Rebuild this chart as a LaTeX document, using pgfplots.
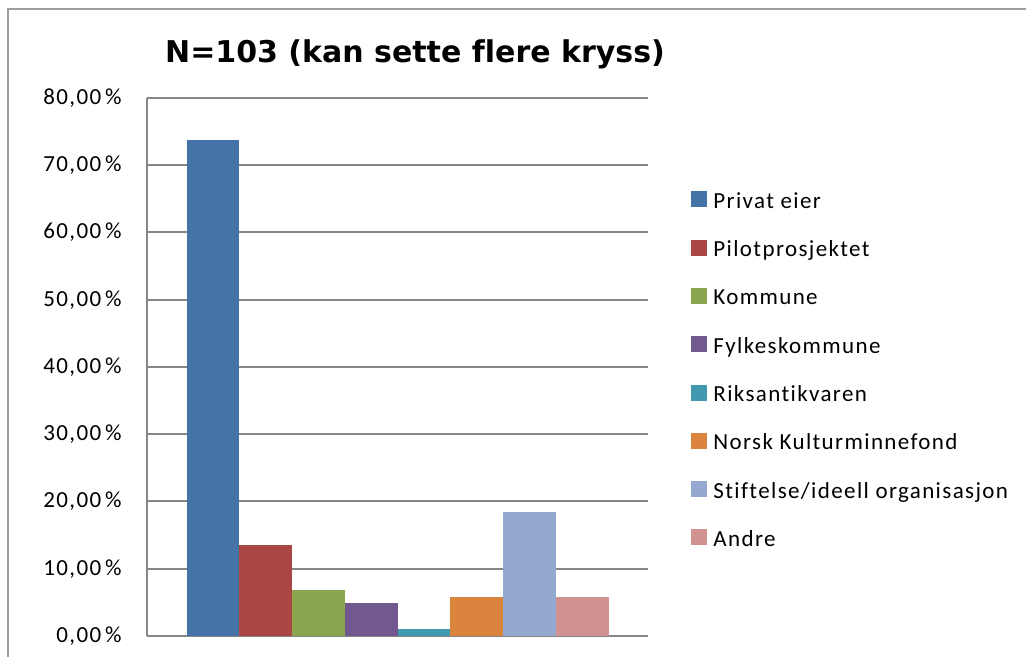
\documentclass[border=0pt]{standalone}
\usepackage{fontspec}
\setmainfont{Carlito}[Ligatures=NoCommon]
\newfontfamily\verd{DejaVu Sans}[Ligatures=NoCommon]
\newfontfamily\calsp{Carlito}[LetterSpace=6,Ligatures=NoCommon]
\newfontfamily\calleg{Carlito}[LetterSpace=6,Ligatures=NoCommon]
\usepackage{pgfplots}
\pgfplotsset{compat=1.18}
\definecolor{c1}{HTML}{4572A7}
\definecolor{c2}{HTML}{AA4643}
\definecolor{c3}{HTML}{89A54E}
\definecolor{c4}{HTML}{71588F}
\definecolor{c5}{HTML}{4198AF}
\definecolor{c6}{HTML}{DB843D}
\definecolor{c7}{HTML}{93A9CF}
\definecolor{c8}{HTML}{D19392}
\definecolor{gridc}{HTML}{868686}
\begin{document}
\begin{tikzpicture}
\useasboundingbox (0,0) rectangle (513pt,328.5pt);
\draw[gridc!80, line width=1pt] (4pt,0) -- (4pt,324pt) -- (513pt,324pt);
\node[font={\verd\bfseries\fontsize{15pt}{18pt}\selectfont}, anchor=base] at (207.5pt,297pt) {N=103 (kan sette flere kryss)};
\begin{axis}[
  at={(73.5pt,10.5pt)}, anchor=south west,
  scale only axis, width=250.5pt, height=269pt,
  xmin=-0.5, xmax=0.5, ymin=0, ymax=80,
  ybar=0pt, bar width=26.375pt,
  xtick=\empty,
  ytick={0,10,...,80},
  yticklabels={{0,00\,\%},{10,00\,\%},{20,00\,\%},{30,00\,\%},{40,00\,\%},{50,00\,\%},{60,00\,\%},{70,00\,\%},{80,00\,\%}},
  yticklabel style={font=\calsp\fontsize{11.5pt}{13pt}\selectfont, inner sep=0pt, xshift=-12.5pt},
  major tick length=0pt,
  axis lines*=left,
  axis line style={gridc, line width=1pt},
  ymajorgrids, major grid style={gridc, line width=1pt},
  clip=false,
  legend image code/.code={\fill[#1] (0pt,-2.5pt) rectangle (8pt,5.5pt);},
  legend style={draw=none, fill=none, at={(1.0858,0.8272)}, anchor=north west,
    inner sep=0pt, row sep=13.65pt, font=\calleg\fontsize{11.5pt}{13pt}\selectfont,
    nodes={inner sep=0pt, text height=8pt, text depth=2pt},
    /tikz/every odd column/.append style={column sep=3pt}},
  legend cell align=left,
]
\addplot[fill=c1, draw=none] coordinates {(0,73.79)};
\addplot[fill=c2, draw=none] coordinates {(0,13.59)};
\addplot[fill=c3, draw=none] coordinates {(0,6.80)};
\addplot[fill=c4, draw=none] coordinates {(0,4.85)};
\addplot[fill=c5, draw=none] coordinates {(0,0.97)};
\addplot[fill=c6, draw=none] coordinates {(0,5.83)};
\addplot[fill=c7, draw=none] coordinates {(0,18.45)};
\addplot[fill=c8, draw=none] coordinates {(0,5.83)};
\legend{Privat eier, Pilotprosjektet, Kommune, Fylkeskommune, Riksantikvaren, Norsk Kulturminnefond, Stiftelse/ideell organisasjon, Andre}
\end{axis}
\end{tikzpicture}
\end{document}
